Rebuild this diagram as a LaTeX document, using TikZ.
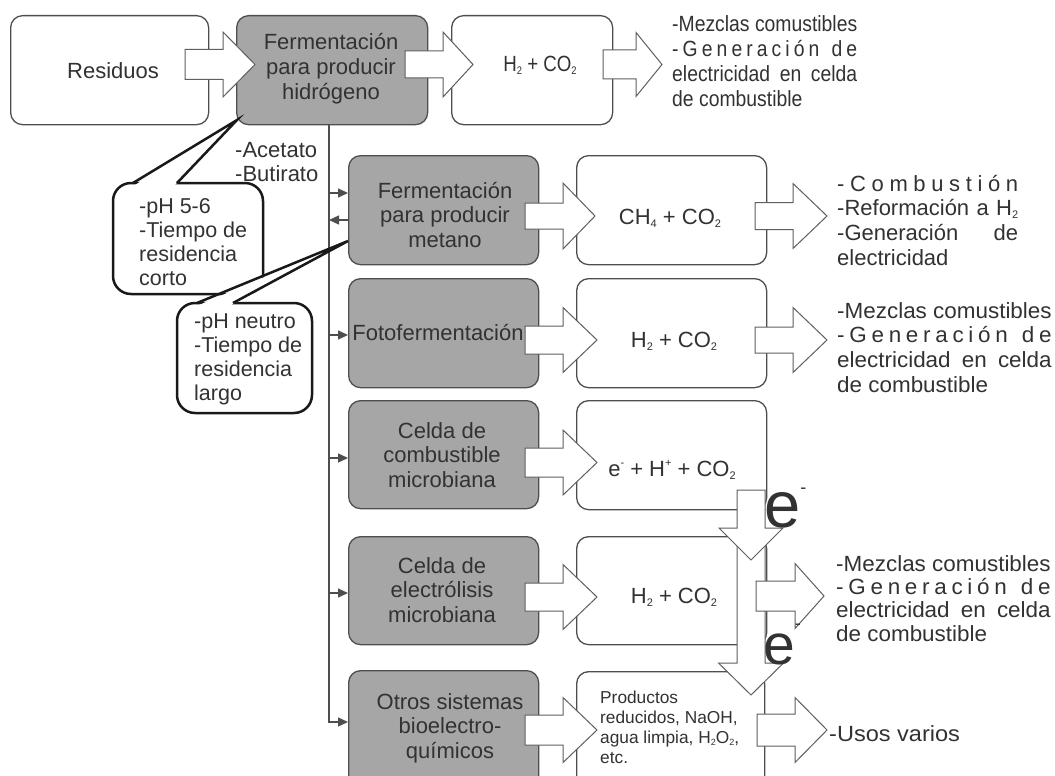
\documentclass[tikz,border=0pt]{standalone}
\usepackage{fontspec}
\setmainfont{Liberation Sans}
\usepackage{graphicx}
\usetikzlibrary{arrows.meta,calc}
\definecolor{boxgray}{RGB}{166,166,166}
\definecolor{bord}{RGB}{78,78,78}
\definecolor{arrc}{RGB}{95,95,95}
\definecolor{txtc}{RGB}{50,50,50}
\newlength\wA
\newcommand\fsm{\fontsize{22}{24.7}\selectfont}
\newcommand\sbs[1]{\raisebox{-3pt}{\fontsize{11}{11}\selectfont #1}}
\newcommand\sps[1]{\raisebox{10pt}{\fontsize{11}{11}\selectfont #1}}
\newcommand\sbsm[1]{\raisebox{-2.5pt}{\fontsize{9}{9}\selectfont #1}}
\newcommand\genls{-\hfil G\hfil e\hfil n\hfil e\hfil r\hfil a\hfil c\hfil i\hfil ó\hfil n\hskip0pt plus 3fil d\hfil e}
\newcommand\mezcla{\parbox[t]{\wA}{-Mezclas comustibles\\\hbox to\wA{\genls}\\\hbox to\wA{electricidad\hfil en\hfil celda}\\de combustible}}
% right-pointing block arrow: x-start, x-headbase, x-tip, y-centre, shaft half, head half
\newcommand\blkR[6]{\draw[barrow] (#1,{#4-#5}) -- (#2,{#4-#5}) -- (#2,{#4-#6}) -- (#3,#4) -- (#2,{#4+#6}) -- (#2,{#4+#5}) -- (#1,{#4+#5}) -- cycle;}
% down-pointing block arrow: x-centre, y-start, y-headbase, y-tip, shaft half, head half
\newcommand\blkD[6]{\draw[barrow] ({#1-#5},#2) -- ({#1+#5},#2) -- ({#1+#5},#3) -- ({#1+#6},#3) -- (#1,#4) -- ({#1-#6},#3) -- ({#1-#5},#3) -- cycle;}
\begin{document}
\settowidth{\wA}{\fsm -Mezclas comustibles}%
\begin{tikzpicture}[x=1pt,y=-1pt,
  gbox/.style={draw=bord, fill=boxgray, line width=1.3pt, rounded corners=12pt, anchor=north west, inner sep=0pt},
  wbox/.style={draw=bord, fill=white, line width=1.3pt, rounded corners=12pt, anchor=north west, inner sep=0pt},
  barrow/.style={draw=arrc, fill=white, line width=1pt, line join=miter},
  txt/.style={inner sep=0pt, text=txtc, font=\fsm},
  branch/.style={draw=bord, line width=1.3pt},
  tipr/.style={-{Triangle[length=10pt,width=9pt]}},
  bubble/.style={draw=black!90, line width=2.5pt, fill=white},
  bline/.style={draw=black!90, line width=2.5pt, line join=miter}]
\fill[white] (0,0) rectangle (1055,776);
\useasboundingbox (0,0) rectangle (1055,776);
\clip (0,0) rectangle (1055,776);

% ---------- boxes ----------
\node[wbox, minimum width=198pt, minimum height=109pt] (res) at (10,15) {};
\node[gbox, minimum width=191pt, minimum height=109pt] (fh) at (236,15) {};
\node[wbox, minimum width=161pt, minimum height=109pt] (h2a) at (451,15) {};

\node[gbox, minimum width=190pt, minimum height=109pt] (gm) at (348,155) {};
\node[wbox, minimum width=190pt, minimum height=109pt] (wm) at (576,155) {};
\node[gbox, minimum width=190pt, minimum height=109pt] (gf) at (348,278) {};
\node[wbox, minimum width=190pt, minimum height=109pt] (wf) at (576,278) {};
\node[gbox, minimum width=190pt, minimum height=108pt] (gc) at (348,400) {};
\node[wbox, minimum width=190pt, minimum height=109pt] (wc) at (576,400) {};
\node[gbox, minimum width=190pt, minimum height=108pt] (ge) at (348,536) {};
\node[wbox, minimum width=190pt, minimum height=108pt] (we) at (576,536) {};
\node[gbox, minimum width=190pt, minimum height=130pt] (go) at (348,670) {};
\node[wbox, minimum width=188pt, minimum height=130pt] (wo) at (576,671) {};

% ---------- branch line ----------
\coordinate (tr0) at (329,124);
\coordinate (tr1) at (329,722);
\coordinate (b1) at (329,193);
\coordinate (b2) at (329,220);
\coordinate (b3) at (329,335);
\coordinate (b4) at (329,458);
\coordinate (b5) at (329,593);
\draw[branch,tipr] (tr0) |- (go.west |- tr1);
\draw[branch,tipr] (b1) -- (b1 -| gm.west);
\draw[branch,tipr] (b2 -| gm.west) -- (b2);
\draw[branch,tipr] (b3) -- (b3 -| gf.west);
\draw[branch,tipr] (b4) -- (b4 -| gc.west);
\draw[branch,tipr] (b5) -- (b5 -| ge.west);

% ---------- block arrows ----------
\blkR{185}{223}{255}{64.5}{15}{32.5}
\blkR{405}{443}{473}{64.5}{13.5}{32.5}
\blkR{603}{636}{662}{64.5}{14.5}{32}

\blkR{525}{563}{595}{216}{13}{33}
\blkR{525}{563}{597}{340}{14}{32.5}
\blkR{525}{563}{597}{462.5}{14.5}{32.5}
\blkR{525}{563}{597}{597}{14}{32.5}
\blkR{525}{563}{597}{730}{15}{32.5}

\blkD{751}{540}{663}{695}{14}{32.5}
\blkD{751}{490}{528}{560}{14}{32}

\blkR{755}{793}{827}{216}{13.5}{32.5}
\blkR{755}{793}{827}{340}{13}{32.5}
\blkR{756}{795}{824}{596}{15}{32.5}
\blkR{757}{795}{827}{730}{16}{32.5}

% ---------- callouts ----------
\draw[bubble, rounded corners=18pt] (113,183) rectangle (263,294);
\fill[white] (135,185) -- (237,120) -- (175,185) -- cycle;
\draw[bline] (133,183) -- (237,120) -- (177,183);
\draw[bubble, rounded corners=18pt] (177,303) rectangle (312,413);
\fill[white] (199,305) -- (348,241) -- (231,305) -- cycle;
\draw[bline] (197,303) -- (348,241) -- (233,303);

% ---------- e- labels ----------
\node[txt, anchor=base west, font=\fontsize{65}{65}\selectfont] (e1) at (764,527) {e\raisebox{34pt}{\fontsize{18}{18}\selectfont -}};
\node[txt, anchor=base west, font=\fontsize{57}{57}\selectfont] (e2) at (763,664) {e\raisebox{35pt}{\fontsize{18}{18}\selectfont -}};

% ---------- texts ----------
\node[txt,anchor=base] (tres) at (113,78) {Residuos};
\node[txt,anchor=base] (tfh) at (331,50) {\parbox[t]{190pt}{\centering Fermentación\\para producir\\hidrógeno}};
\node[txt,anchor=base] (th2a) at (540,71) {\scalebox{0.85}[1]{H\sbs{2} + CO\sbs{2}}};
\node[txt,anchor=base west] (tu1) at (672,32) {\scalebox{0.88}[1]{\mezcla}};

\node[txt,anchor=base west] (tac) at (235,157) {\parbox[t]{100pt}{-Acetato\\-Butirato}};
\node[txt,anchor=base west,font=\fontsize{21.5}{24}\selectfont] (tb1) at (139,213) {\parbox[t]{120pt}{-pH 5-6\\-Tiempo de\\residencia\\corto}};
\node[txt,anchor=base west,font=\fontsize{21.5}{24}\selectfont] (tb2) at (194,328) {\parbox[t]{120pt}{-pH neutro\\-Tiempo de\\residencia\\largo}};

\node[txt,anchor=base] (tgm) at (445,198) {\parbox[t]{190pt}{\centering Fermentación\\para producir\\metano}};
\node[txt,anchor=base] (tgf) at (438,340) {Fotofermentación};
\node[txt,anchor=base] (tgc) at (442,438) {\parbox[t]{190pt}{\centering Celda de\\combustible\\microbiana}};
\node[txt,anchor=base] (tge) at (442,573) {\parbox[t]{190pt}{\centering Celda de\\electrólisis\\microbiana}};
\node[txt,anchor=base] (tgo) at (450,709) {\parbox[t]{190pt}{\centering Otros sistemas\\bioelectro-\\químicos}};

\node[txt,anchor=base] (twm) at (670,224) {CH\sbs{4} + CO\sbs{2}};
\node[txt,anchor=base] (twf) at (674,347) {H\sbs{2} + CO\sbs{2}};
\node[txt,anchor=base] (twc) at (672,476) {e\sps{-} + H\sps{+} + CO\sbs{2}};
\node[txt,anchor=base] (twe) at (674,603) {H\sbs{2} + CO\sbs{2}};
\node[txt,anchor=base west,font=\fontsize{17.3}{20}\selectfont] (two) at (600,703) {\parbox[t]{170pt}{Productos\\reducidos, NaOH,\\agua limpia, H\sbsm{2}O\sbsm{2},\\etc.}};

\node[txt,anchor=base west] (tum) at (837,191) {\parbox[t]{181pt}{\noindent\hbox to181pt{-\hfil C\hfil o\hfil m\hfil b\hfil u\hfil s\hfil t\hfil i\hfil ó\hfil n}\\\hbox to181pt{-Reformación\hfil a\hfil H\sbs{2}}\\\hbox to181pt{-Generación\hfil de}\\electricidad}};
\node[txt,anchor=base west] (tuf) at (837,318) {\scalebox{1.02}[1]{\mezcla}};
\node[txt,anchor=base west,font=\fontsize{22}{23.4}\selectfont] (tue) at (836,571) {\scalebox{1.02}[1]{\mezcla}};
\node[txt,anchor=base west] (tuu) at (829,741) {\scalebox{1.07}[1]{-Usos varios}};
\end{tikzpicture}
\end{document}
